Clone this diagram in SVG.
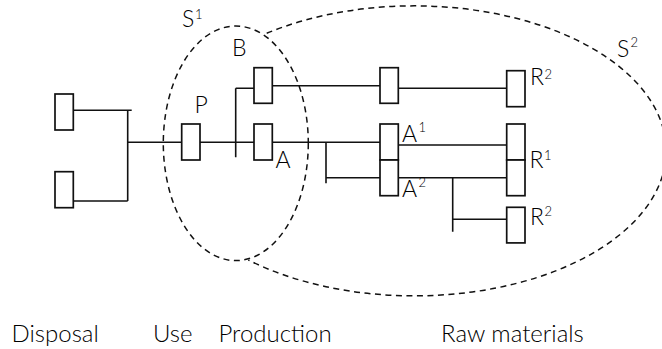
<svg xmlns="http://www.w3.org/2000/svg" width="662" height="349" viewBox="0 0 662 349">
<style>
.box{fill:#fff;stroke:#111;stroke-width:1.7}
.ln{fill:none;stroke:#111;stroke-width:1.6}
.dash{fill:none;stroke:#111;stroke-width:1.5;stroke-dasharray:6 4.5}
text{font-family:Lato,"Liberation Sans",sans-serif;font-weight:300;fill:#000}
.lb{font-size:23px}
.sup{font-size:13px}
.cap{font-size:24px}
</style>
<rect width="662" height="349" fill="#fff"/>
<g id="systems">
<ellipse id="S1" class="dash" cx="235.8" cy="143.3" rx="72.5" ry="117.3"/>
<path id="S2" class="dash" d="M266.7,33.3 A252,145 0 1 1 248.3,260"/>
</g>
<g id="connectors">
<path class="ln" d="M73,110.3H131.7M127.7,110.3V201M73,201H127.7"/>
<path class="ln" d="M127.7,142.3H181.7M200,142.3H254M235.7,88.3V157.3M235.7,88.3H254"/>
<path class="ln" d="M272.3,85.7H380M398.3,88.3H506.7"/>
<path class="ln" d="M272.3,142.3H380M326,142.3V183.3M326,177.7H380"/>
<path class="ln" d="M398.3,145H506.7M398.3,177.7H506.7M452.7,177.7V231.7M452.7,219.3H506.7"/>
</g>
<g id="disposal1"><rect class="box" x="55" y="94" width="18.3" height="36"/></g>
<g id="disposal2"><rect class="box" x="55" y="171.7" width="18.3" height="36"/></g>
<g id="P"><rect class="box" x="181.7" y="124" width="18.3" height="36"/><text class="lb" x="194.5" y="113.3">P</text></g>
<g id="B"><rect class="box" x="254" y="67.7" width="18.3" height="35.6"/><text class="lb" x="232" y="56">B</text></g>
<g id="A"><rect class="box" x="254" y="124" width="18.3" height="36"/><text class="lb" x="275.5" y="168.3">A</text></g>
<g id="Bmid"><rect class="box" x="380" y="67.7" width="18.3" height="35.6"/></g>
<g id="A1"><rect class="box" x="380" y="124" width="18.3" height="36"/><text class="lb" x="402" y="141.7">A</text><text class="sup" x="418.5" y="132">1</text></g>
<g id="A2"><rect class="box" x="380" y="160" width="18.3" height="35.7"/><text class="lb" x="402" y="196.7">A</text><text class="sup" x="418.5" y="187">2</text></g>
<g id="R2top"><rect class="box" x="506.7" y="70.7" width="18.3" height="36"/><text class="lb" x="530" y="85">R</text><text class="sup" x="544.5" y="79">2</text></g>
<g id="R1a"><rect class="box" x="506.7" y="124" width="18.3" height="36"/></g>
<g id="R1b"><rect class="box" x="506.7" y="160" width="18.3" height="35.7"/><text class="lb" x="529.5" y="168.3">R</text><text class="sup" x="544" y="160">1</text></g>
<g id="R2low"><rect class="box" x="506.7" y="207.3" width="18.3" height="35.6"/><text class="lb" x="530" y="225">R</text><text class="sup" x="544.5" y="216">2</text></g>
<g id="labels">
<text class="lb" x="182" y="27.3">S</text><text class="sup" x="195" y="19">1</text>
<text class="lb" x="617" y="56.7">S</text><text class="sup" x="630.5" y="47">2</text>
<text class="cap" x="11.5" y="342">Disposal</text>
<text class="cap" x="153" y="342">Use</text>
<text class="cap" x="218.5" y="342">Production</text>
<text class="cap" x="441" y="342">Raw materials</text>
</g>
</svg>
